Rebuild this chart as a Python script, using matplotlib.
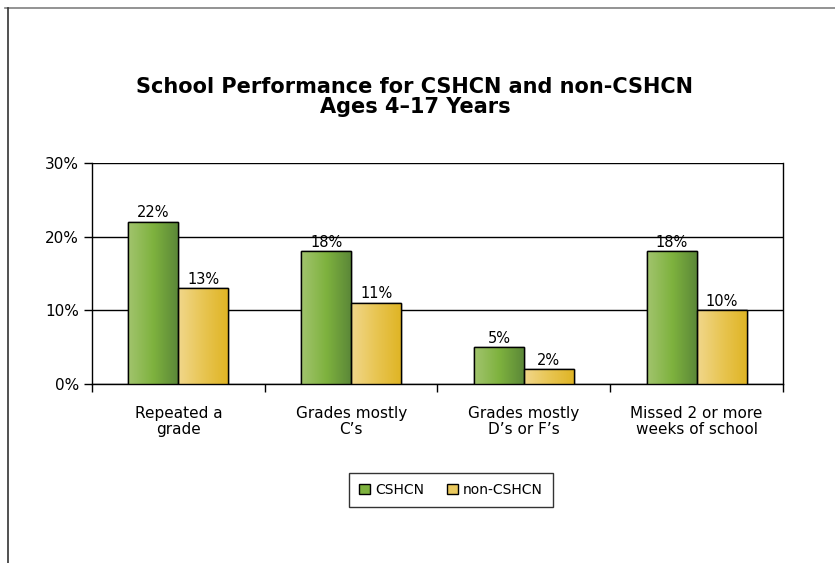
import numpy as np
import matplotlib.pyplot as plt
from matplotlib.colors import LinearSegmentedColormap
from matplotlib.patches import Rectangle
from matplotlib.lines import Line2D

plt.rcParams['font.family'] = ['DejaVu Sans']

# Datos
categories = ['Repeated a\ngrade', 'Grades mostly\nC\u2019s', 'Grades mostly\nD\u2019s or F\u2019s',
              'Missed 2 or more\nweeks of school']
cshcn = [22, 18, 5, 18]
non_cshcn = [13, 11, 2, 10]
series_names = ['CSHCN', 'non-CSHCN']

green = LinearSegmentedColormap.from_list('g', ['#a2c46e', '#7eb23e', '#5a8638'])
yellow = LinearSegmentedColormap.from_list('y', ['#f1d78c', '#e8c552', '#dfb423'])

fig = plt.figure(figsize=(8.35, 5.63), dpi=100)
ax = fig.add_axes([0.1102, 0.318, 0.8275, 0.3925])

x = np.arange(len(categories))
w = 0.29
grad = np.linspace(0, 1, 256).reshape(1, -1)


def gradient_bars(xs, vals, cmap, label):
    bars = ax.bar(xs, vals, w, color=cmap(0.5), edgecolor='black', linewidth=1.0,
                  label=label, zorder=3)
    for b in bars:
        bx, by = b.get_x(), b.get_y()
        bw, bh = b.get_width(), b.get_height()
        im = ax.imshow(grad, cmap=cmap, aspect='auto', extent=[bx, bx + bw, by, by + bh],
                       zorder=3.5, interpolation='bilinear')
        clip = Rectangle((bx, by), bw, bh, transform=ax.transData)
        im.set_clip_path(clip)
        ax.add_patch(Rectangle((bx, by), bw, bh, fill=False, edgecolor='black',
                               linewidth=1.0, zorder=4))
        ax.text(bx + bw / 2, by + bh + 0.2, f'{int(round(bh))}%', ha='center', va='bottom',
                fontsize=10.5, zorder=5)
    return bars


gradient_bars(x - w / 2, cshcn, green, series_names[0])
gradient_bars(x + w / 2, non_cshcn, yellow, series_names[1])

ax.set_xlim(-0.5, len(categories) - 0.5)
ax.set_ylim(0, 30)
ax.set_yticks([0, 10, 20, 30])
ax.set_yticklabels(['0%', '10%', '20%', '30%'], fontsize=11)
ax.yaxis.grid(True, color='black', linewidth=1.0, zorder=0)
ax.set_axisbelow(True)

ax.set_xticks(np.arange(len(categories) + 1) - 0.5)
ax.set_xticklabels([])
ax.set_xticks(x, minor=True)
ax.set_xticklabels(categories, minor=True, fontsize=11, linespacing=1.05)
ax.tick_params(axis='x', which='minor', length=0, pad=16)
ax.tick_params(axis='x', which='major', length=6, width=1, direction='out')
ax.tick_params(axis='y', length=6, width=1, direction='out')
for s in ax.spines.values():
    s.set_linewidth(1.0)
ax.spines['top'].set_visible(False)

fig.text(0.497, 0.827, 'School Performance for CSHCN and non-CSHCN\nAges 4\u201317 Years',
         ha='center', va='center', fontsize=15, fontweight='bold', linespacing=1.0)

handles = [Rectangle((0, 0), 1, 1, facecolor=green(0.5), edgecolor='black', linewidth=1),
           Rectangle((0, 0), 1, 1, facecolor=yellow(0.4), edgecolor='black', linewidth=1)]
leg = fig.legend(handles, series_names, loc='center', bbox_to_anchor=(0.54, 0.13), ncol=2,
                 fontsize=10, frameon=True, fancybox=False, edgecolor='black',
                 handlelength=0.8, handleheight=0.8, handletextpad=0.4, columnspacing=1.6,
                 borderpad=0.7)
leg.get_frame().set_linewidth(1.0)

# Marco exterior
fig.add_artist(Line2D([5 / 835, 1], [1 - 8 / 563, 1 - 8 / 563], color='#808080', linewidth=1.2))
fig.add_artist(Line2D([8 / 835, 8 / 835], [0, 1 - 8 / 563], color='#333333', linewidth=1.2))

plt.savefig('out.png', dpi=100)
